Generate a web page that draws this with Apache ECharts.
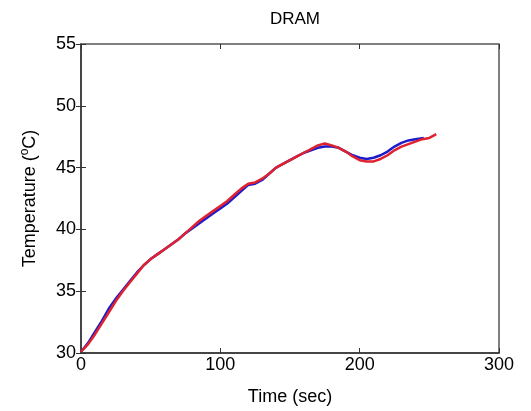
<!DOCTYPE html>
<html>
<head>
<meta charset="utf-8">
<script src="https://cdn.jsdelivr.net/npm/echarts@6/dist/echarts.min.js"></script>
<style>
  html, body { margin: 0; padding: 0; background: #fff; }
  #chart { width: 531px; height: 411px; }
</style>
</head>
<body>
<div id="chart"></div>
<script>
// time axis (sec)
const redTime = [0, 5, 10, 15, 20, 25, 30, 35, 40, 45, 50, 55, 60, 65, 70, 75, 80, 85, 90, 95,
  100, 105, 110, 115, 120, 125, 130, 135, 140, 145, 150, 155, 160, 165, 170, 175, 180, 185, 190, 195,
  200, 205, 210, 215, 220, 225, 230, 235, 240, 245, 250, 255];
const redTemp = [30.1, 30.7, 31.5, 32.4, 33.3, 34.2, 35.0, 35.7, 36.4, 37.1, 37.6, 38.0, 38.4, 38.8, 39.2, 39.7, 40.2, 40.7, 41.1, 41.5,
  41.9, 42.3, 42.8, 43.3, 43.7, 43.8, 44.1, 44.5, 45.0, 45.3, 45.6, 45.9, 46.2, 46.5, 46.8, 46.95, 46.8, 46.6, 46.3, 45.9,
  45.6, 45.5, 45.5, 45.7, 46.0, 46.4, 46.7, 46.9, 47.1, 47.3, 47.4, 47.7];

const blueTime = [0, 5, 10, 15, 20, 25, 30, 35, 40, 45, 50, 55, 60, 65, 70, 75, 80, 85, 90, 95,
  100, 105, 110, 115, 120, 125, 130, 135, 140, 145, 150, 155, 160, 165, 170, 175, 180, 185, 190, 195,
  200, 205, 210, 215, 220, 225, 230, 235, 240, 246];
const blueTemp = [30.1, 30.8, 31.7, 32.6, 33.6, 34.4, 35.1, 35.8, 36.5, 37.1, 37.6, 38.0, 38.4, 38.8, 39.2, 39.7, 40.1, 40.5, 40.9, 41.3,
  41.7, 42.1, 42.6, 43.1, 43.6, 43.7, 44.0, 44.5, 45.0, 45.3, 45.6, 45.9, 46.2, 46.4, 46.6, 46.7, 46.7, 46.6, 46.3, 46.0,
  45.8, 45.7, 45.8, 46.0, 46.3, 46.7, 47.0, 47.2, 47.3, 47.4];

const xTicks = [0, 100, 200, 300];
const yTicks = [30, 35, 40, 45, 50, 55];

const pairs = (xs, ys) => xs.map((x, i) => [x, ys[i]]);

const chart = echarts.init(document.getElementById('chart'));
const font = 'Liberation Sans, Arial, sans-serif';
const inTicks = { show: true, inside: true, length: 5, lineStyle: { color: '#333' } };

chart.setOption({
  animation: false,
  title: {
    text: 'DRAM',
    left: 290,
    top: 6,
    textAlign: 'center',
    textStyle: { fontFamily: font, fontSize: 17, fontWeight: 'normal', color: '#000' }
  },
  grid: {
    left: 81, right: 32, top: 44, bottom: 52,
    show: true, borderColor: '#555', borderWidth: 1.5, backgroundColor: '#fff'
  },
  xAxis: [{
    type: 'value', min: 0, max: 300, interval: xTicks[1] - xTicks[0],
    name: 'Time (sec)', nameLocation: 'middle', nameGap: 35,
    nameTextStyle: { fontFamily: font, fontSize: 18, color: '#000' },
    axisLine: { show: true, lineStyle: { color: '#333', width: 1.5 } },
    axisTick: inTicks,
    axisLabel: { fontFamily: font, fontSize: 18, color: '#000', margin: 3 },
    splitLine: { show: false }
  }, {
    type: 'value', min: 0, max: 300, interval: xTicks[1] - xTicks[0], position: 'top',
    axisLine: { show: false }, axisTick: inTicks, axisLabel: { show: false }, splitLine: { show: false }
  }],
  yAxis: [{
    type: 'value', min: 30, max: 55, interval: yTicks[1] - yTicks[0],
    name: 'Temperature ({sup|o}C)', nameLocation: 'middle', nameGap: 40,
    nameTextStyle: {
      fontFamily: font, fontSize: 18, color: '#000',
      rich: { sup: { fontFamily: font, fontSize: 12, color: '#000', verticalAlign: 'top', padding: [0, 0, 10, 0] } }
    },
    axisLine: { show: true, lineStyle: { color: '#333', width: 1.5 } },
    axisTick: inTicks,
    axisLabel: { fontFamily: font, fontSize: 18, color: '#000', margin: 5 },
    splitLine: { show: false }
  }, {
    type: 'value', min: 30, max: 55, interval: yTicks[1] - yTicks[0], position: 'right',
    axisLine: { show: false }, axisTick: inTicks, axisLabel: { show: false }, splitLine: { show: false }
  }],
  series: [{
    type: 'line', data: pairs(blueTime, blueTemp), showSymbol: false,
    lineStyle: { color: '#1c1ccc', width: 2.5 }
  }, {
    type: 'line', data: pairs(redTime, redTemp), showSymbol: false,
    lineStyle: { color: '#e0222e', width: 2.5 }
  }]
});
</script>
</body>
</html>
